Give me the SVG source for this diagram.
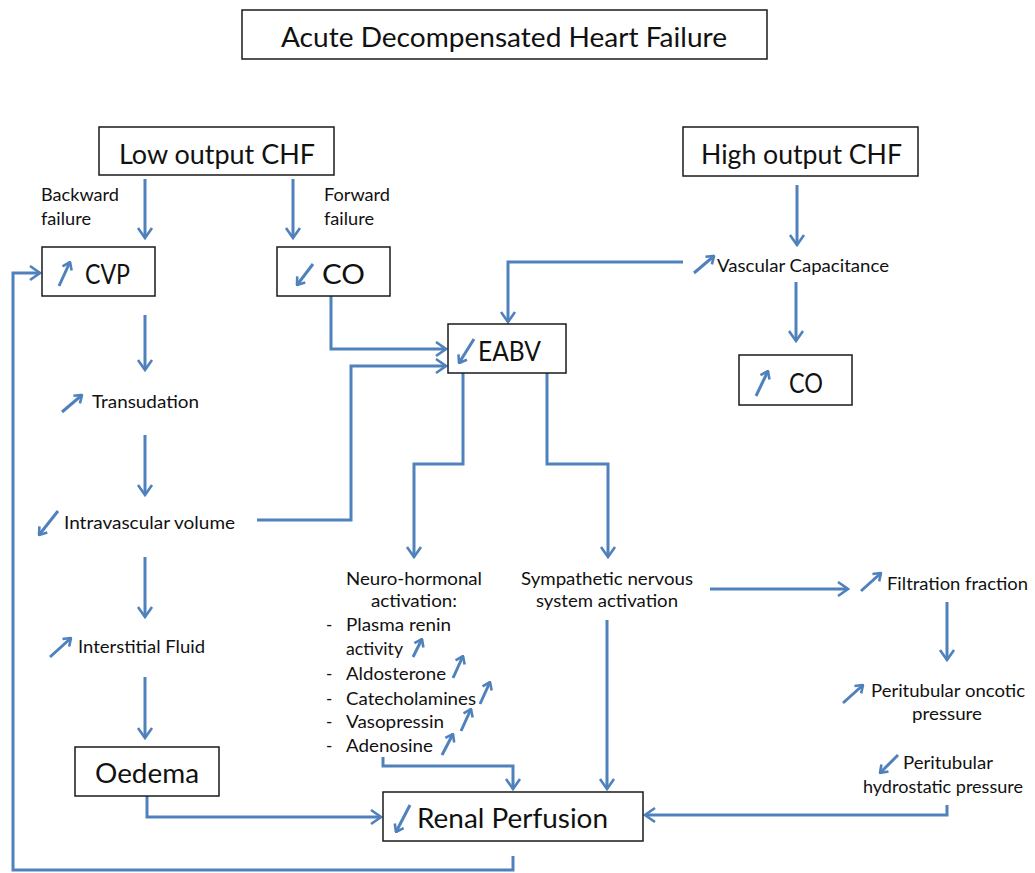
<svg xmlns="http://www.w3.org/2000/svg" width="1035" height="873" viewBox="0 0 1035 873">
<style>
.box{fill:#fff;stroke:#1a1a1a;stroke-width:1.5}
.big{font-family:Lato,"Liberation Sans",sans-serif;font-size:26px;fill:#111}
.sm{font-family:Lato,"Liberation Sans",sans-serif;font-size:17px;fill:#111}
.c{fill:none;stroke:#4F81BD;stroke-width:3;marker-end:url(#ah)}
.ic{fill:none;stroke:#4F81BD;stroke-width:3;marker-end:url(#sh)}
</style>
<defs>
<marker id="ah" viewBox="-12 -9 14 18" refX="0" refY="0" markerWidth="14" markerHeight="18" markerUnits="userSpaceOnUse" orient="auto">
<path d="M-10,-7 L0,0 L-10,7" fill="none" stroke="#4F81BD" stroke-width="2.6"/>
</marker>
<marker id="sh" viewBox="-9 -7 10 14" refX="0" refY="0" markerWidth="10" markerHeight="14" markerUnits="userSpaceOnUse" orient="auto">
<path d="M-7,-5 L0,0 L-7,5" fill="none" stroke="#4F81BD" stroke-width="2.6"/>
</marker>
</defs>
<rect width="1035" height="873" fill="#fff"/>

<g id="connectors">
<path class="c" d="M145,179 V238"/>
<path class="c" d="M293,179 V238"/>
<path class="c" d="M145,315 V370"/>
<path class="c" d="M145,435 V495"/>
<path class="c" d="M145,557 V617"/>
<path class="c" d="M145,677 V738"/>
<path class="c" d="M331,296 V349 H446"/>
<path class="c" d="M257,520 H351 V366 H446"/>
<path class="c" d="M683,262 H508 V322"/>
<path class="c" d="M797,185 V245"/>
<path class="c" d="M796,282 V341"/>
<path class="c" d="M463,373 V464 H414 V557"/>
<path class="c" d="M547,373 V464 H608 V557"/>
<path class="c" d="M710,589 H848"/>
<path class="c" d="M947,602 V660"/>
<path class="c" d="M607,620 V789"/>
<path class="c" d="M383,757 V766 H513 V789"/>
<path class="c" d="M147,796 V817 H381"/>
<path class="c" d="M947,805 V815 H645"/>
<path class="c" d="M513,856 V870 H13 V273 H40"/>
</g>

<g id="title">
<rect class="box" x="242" y="10" width="525" height="49"/>
<text class="big" x="281" y="47" font-size="24" textLength="446" lengthAdjust="spacingAndGlyphs">Acute Decompensated Heart Failure</text>
</g>

<g id="low-output">
<rect class="box" x="99" y="127" width="235" height="48"/>
<text class="big" x="119" y="164" textLength="196" lengthAdjust="spacingAndGlyphs">Low output CHF</text>
</g>

<g id="high-output">
<rect class="box" x="683" y="127" width="235" height="49"/>
<text class="big" x="701" y="164" textLength="201" lengthAdjust="spacingAndGlyphs">High output CHF</text>
</g>

<g id="backward-label">
<text class="sm" x="41" y="201" textLength="78" lengthAdjust="spacingAndGlyphs">Backward</text>
<text class="sm" x="41" y="225" textLength="50" lengthAdjust="spacingAndGlyphs">failure</text>
</g>
<g id="forward-label">
<text class="sm" x="324" y="201" textLength="66" lengthAdjust="spacingAndGlyphs">Forward</text>
<text class="sm" x="324" y="225" textLength="50" lengthAdjust="spacingAndGlyphs">failure</text>
</g>

<g id="cvp">
<rect class="box" x="42" y="247" width="113" height="49"/>
<path class="ic" d="M59,286 L70,262"/>
<text class="big" x="85" y="284" textLength="45" lengthAdjust="spacingAndGlyphs">CVP</text>
</g>

<g id="co-low">
<rect class="box" x="277" y="247" width="113" height="49"/>
<path class="ic" d="M313,264 L297,285"/>
<text class="big" x="322" y="284" textLength="43" lengthAdjust="spacingAndGlyphs">CO</text>
</g>

<g id="transudation">
<path class="ic" d="M62,412 L82,395"/>
<text class="sm" x="92" y="408" textLength="107" lengthAdjust="spacingAndGlyphs">Transudation</text>
</g>

<g id="intravascular">
<path class="ic" d="M58,511 L39,535"/>
<text class="sm" x="64" y="529" textLength="171" lengthAdjust="spacingAndGlyphs">Intravascular volume</text>
</g>

<g id="interstitial">
<path class="ic" d="M50,657 L71,638"/>
<text class="sm" x="78" y="653" textLength="127" lengthAdjust="spacingAndGlyphs">Interstitial Fluid</text>
</g>

<g id="oedema">
<rect class="box" x="75" y="747" width="144" height="49"/>
<text class="big" x="95" y="783" textLength="104" lengthAdjust="spacingAndGlyphs">Oedema</text>
</g>

<g id="eabv">
<rect class="box" x="448" y="324" width="118" height="49"/>
<path class="ic" d="M474,339 L459,363"/>
<text class="big" x="478" y="361" textLength="63" lengthAdjust="spacingAndGlyphs">EABV</text>
</g>

<g id="vascular">
<path class="ic" d="M694,273 L714,256"/>
<text class="sm" x="717" y="272" textLength="172" lengthAdjust="spacingAndGlyphs">Vascular Capacitance</text>
</g>

<g id="co-high">
<rect class="box" x="739" y="355" width="113" height="50"/>
<path class="ic" d="M756,396 L768,371"/>
<text class="big" x="789" y="393" textLength="34" lengthAdjust="spacingAndGlyphs">CO</text>
</g>

<g id="neurohormonal">
<text class="sm" x="346" y="585" textLength="136" lengthAdjust="spacingAndGlyphs">Neuro-hormonal</text>
<text class="sm" x="371" y="607" textLength="86" lengthAdjust="spacingAndGlyphs">activation:</text>
<text class="sm" x="326" y="631">-</text>
<text class="sm" x="346" y="631" textLength="105" lengthAdjust="spacingAndGlyphs">Plasma renin</text>
<text class="sm" x="346" y="655" textLength="57" lengthAdjust="spacingAndGlyphs">activity</text>
<path class="ic" d="M413,657 L422,639"/>
<text class="sm" x="326" y="680">-</text>
<text class="sm" x="346" y="680" textLength="100" lengthAdjust="spacingAndGlyphs">Aldosterone</text>
<path class="ic" d="M453,678 L463,656"/>
<text class="sm" x="326" y="705">-</text>
<text class="sm" x="346" y="705" textLength="130" lengthAdjust="spacingAndGlyphs">Catecholamines</text>
<path class="ic" d="M480,704 L490,682"/>
<text class="sm" x="326" y="728">-</text>
<text class="sm" x="346" y="728" textLength="98" lengthAdjust="spacingAndGlyphs">Vasopressin</text>
<path class="ic" d="M461,731 L471,709"/>
<text class="sm" x="326" y="752">-</text>
<text class="sm" x="346" y="752" textLength="87" lengthAdjust="spacingAndGlyphs">Adenosine</text>
<path class="ic" d="M442,755 L453,734"/>
</g>

<g id="sympathetic">
<text class="sm" x="521" y="585" textLength="172" lengthAdjust="spacingAndGlyphs">Sympathetic nervous</text>
<text class="sm" x="536" y="607" textLength="142" lengthAdjust="spacingAndGlyphs">system activation</text>
</g>

<g id="filtration">
<path class="ic" d="M861,591 L881,573"/>
<text class="sm" x="887" y="590" textLength="141" lengthAdjust="spacingAndGlyphs">Filtration fraction</text>
</g>

<g id="oncotic">
<path class="ic" d="M843,703 L863,685"/>
<text class="sm" x="871" y="697" textLength="154" lengthAdjust="spacingAndGlyphs">Peritubular oncotic</text>
<text class="sm" x="912" y="720" textLength="70" lengthAdjust="spacingAndGlyphs">pressure</text>
</g>

<g id="hydrostatic">
<path class="ic" d="M898,755 L880,773"/>
<text class="sm" x="903" y="769" textLength="90" lengthAdjust="spacingAndGlyphs">Peritubular</text>
<text class="sm" x="863" y="793" textLength="160" lengthAdjust="spacingAndGlyphs">hydrostatic pressure</text>
</g>

<g id="renal">
<rect class="box" x="383" y="792" width="260" height="49"/>
<path class="ic" d="M410,805 L396,832"/>
<text class="big" x="417" y="828" textLength="191" lengthAdjust="spacingAndGlyphs">Renal Perfusion</text>
</g>
</svg>
